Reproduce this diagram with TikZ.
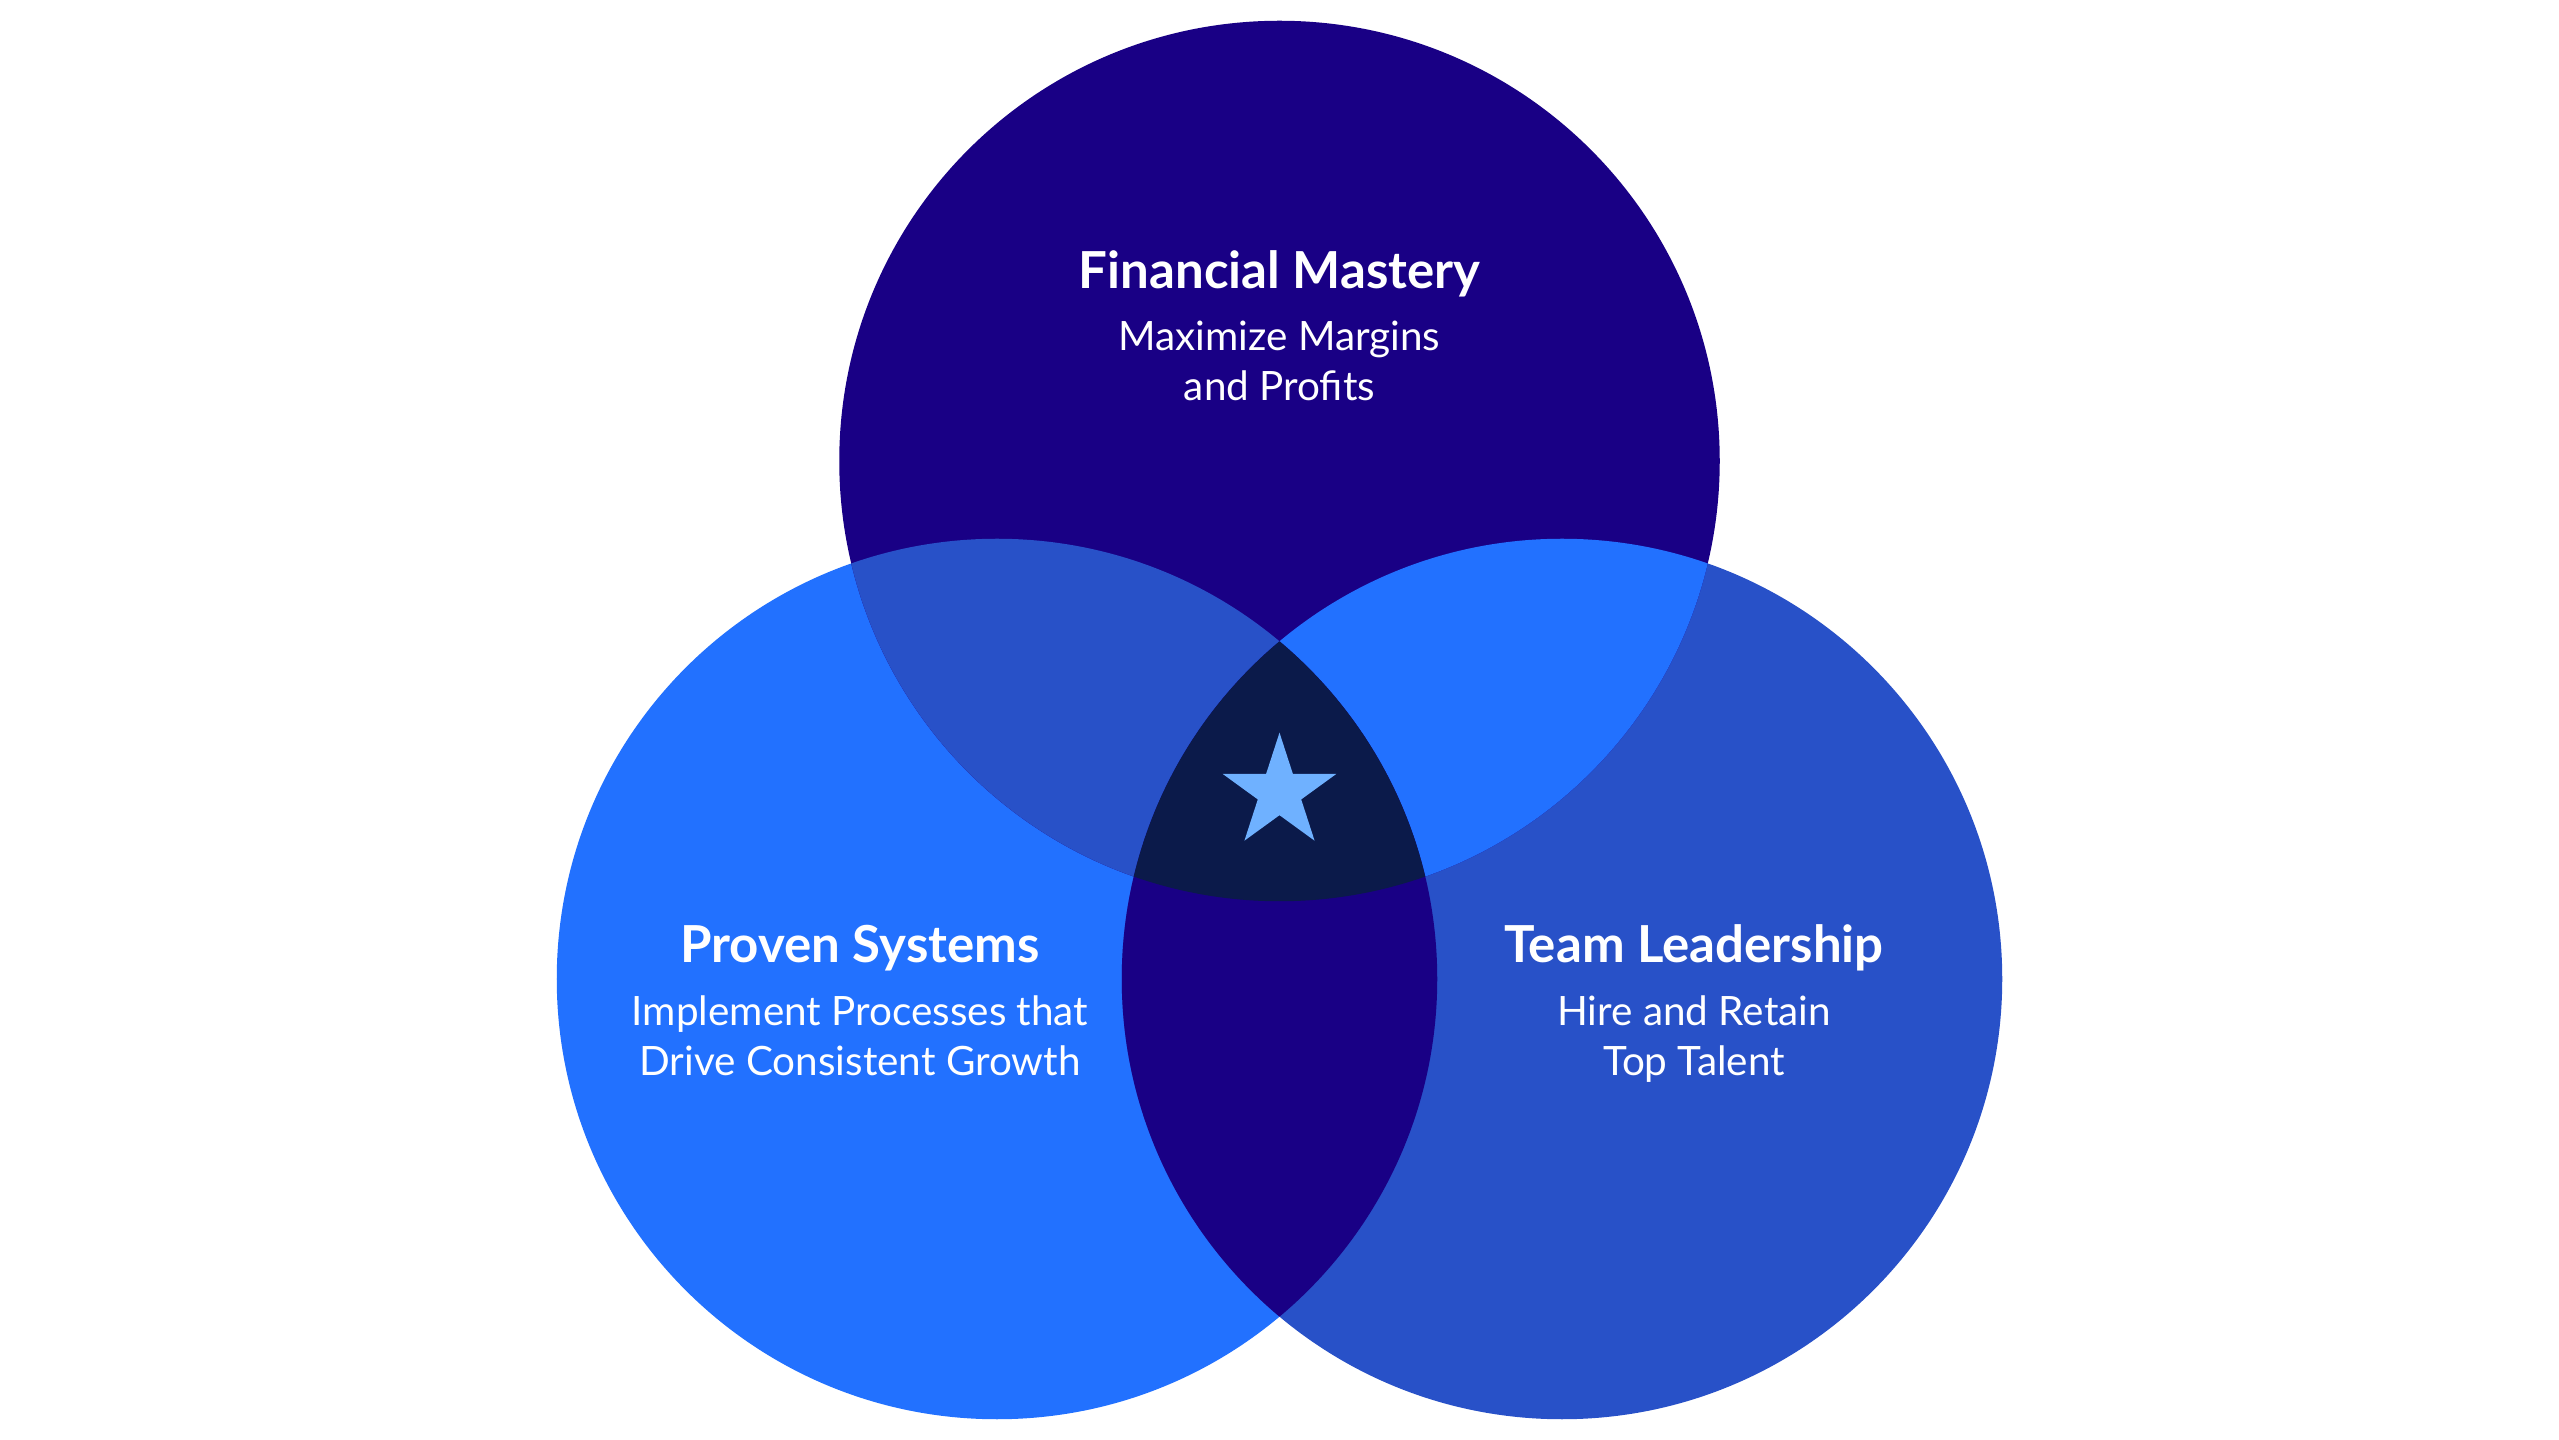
\documentclass[tikz,border=0pt]{standalone}
\usepackage{fontspec}
\setmainfont{Lato}
\usetikzlibrary{shapes.geometric}
\definecolor{cTop}{HTML}{190085}
\definecolor{cLeft}{HTML}{2271FF}
\definecolor{cRight}{HTML}{2851C8}
\definecolor{cCore}{HTML}{0B1A4A}
\definecolor{cStar}{HTML}{6FB1FF}
\tikzset{
  ttl/.style={text=white, anchor=base, inner sep=0pt, font=\fontsize{14.5pt}{17pt}\selectfont\bfseries},
  sub/.style={text=white, anchor=base, inner sep=0pt, font=\fontsize{11.5pt}{13.5pt}\selectfont},
}
\begin{document}
\begin{tikzpicture}[x=0.01cm,y=-0.01cm]
\useasboundingbox (0,0) rectangle (2559,1440);
\fill[white] (0,0) rectangle (2559,1440);
\coordinate (T) at (1279.5,461);
\coordinate (L) at (997,979);
\coordinate (R) at (1562,979);
\def\rad{4.4cm}
% base circles
\fill[cLeft] (L) circle[radius=\rad];
\fill[cRight] (R) circle[radius=\rad];
\fill[cTop] (T) circle[radius=\rad];
% pairwise overlaps
\begin{scope}
  \clip (T) circle[radius=\rad];
  \fill[cRight] (L) circle[radius=\rad];
\end{scope}
\begin{scope}
  \clip (T) circle[radius=\rad];
  \fill[cLeft] (R) circle[radius=\rad];
\end{scope}
\begin{scope}
  \clip (L) circle[radius=\rad];
  \fill[cTop] (R) circle[radius=\rad];
\end{scope}
% triple overlap
\begin{scope}
  \clip (T) circle[radius=\rad];
  \clip (L) circle[radius=\rad];
  \fill[cCore] (R) circle[radius=\rad];
\end{scope}
% star
\node[star, star points=5, star point ratio=2.618, minimum size=1.194cm, inner sep=0pt, fill=cStar, draw=none] (star) at (1279.5,792.4) {};
% texts
\node[ttl] (t1) at (1279.5,289) {Financial Mastery};
\node[sub] (t1a) at (1279.5,351) {Maximize Margins};
\node[sub] (t1b) at (1279.5,400.5) {and Profits};
\node[ttl] (t2) at (860,963) {Proven Systems};
\node[sub] (t2a) at (860,1026) {Implement Processes that};
\node[sub] (t2b) at (860,1075.5) {Drive Consistent Growth};
\node[ttl] (t3) at (1694,963) {Team Leadership};
\node[sub] (t3a) at (1694,1026) {Hire and Retain};
\node[sub] (t3b) at (1694,1075.5) {Top Talent};
\end{tikzpicture}
\end{document}
